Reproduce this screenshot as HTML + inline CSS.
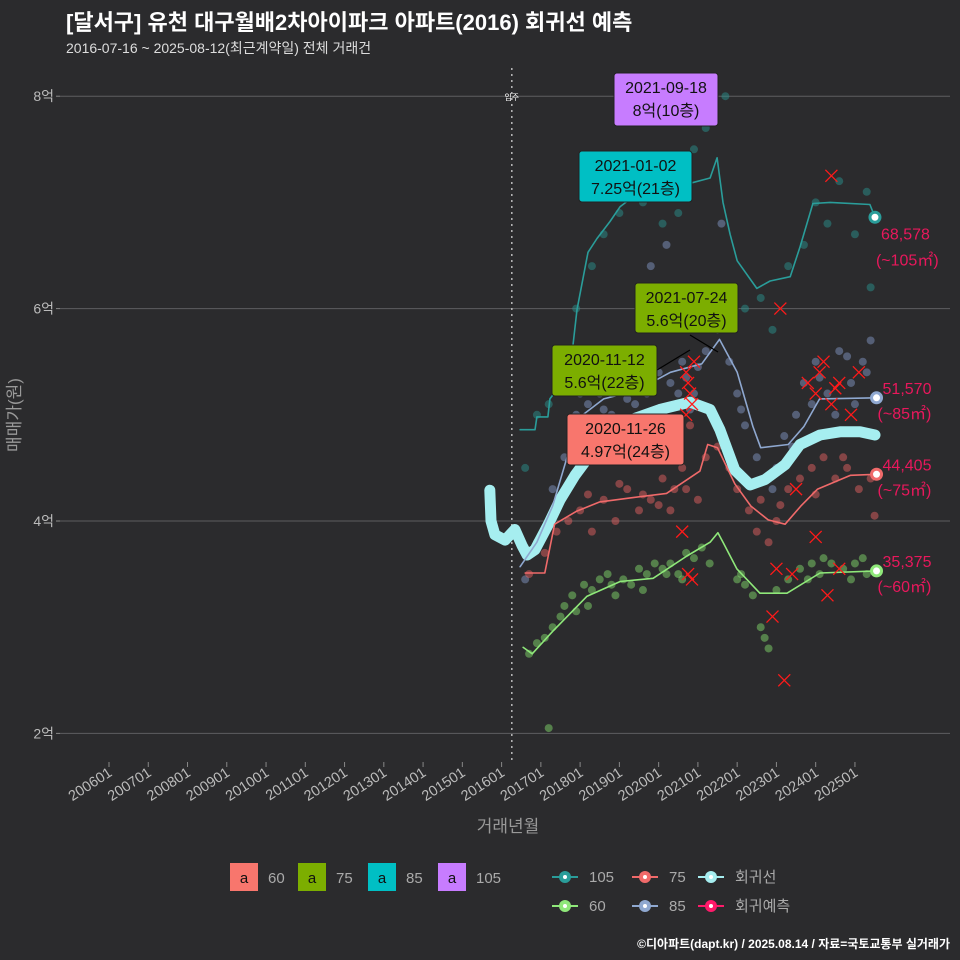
<!DOCTYPE html>
<html><head><meta charset="utf-8">
<style>
body{margin:0;background:#2b2b2d;}
svg{display:block;font-family:"Liberation Sans","Noto Sans CJK KR",sans-serif;}
</style></head><body>
<svg id="chart" width="960" height="960" viewBox="0 0 960 960" xmlns="http://www.w3.org/2000/svg">
<rect width="960" height="960" fill="#2b2b2d"/>
<text x="66" y="30" fill="#ffffff" font-size="22" font-weight="bold">[달서구] 유천 대구월배2차아이파크 아파트(2016) 회귀선 예측</text>
<text x="66" y="53" fill="#dddddd" font-size="14">2016-07-16 ~ 2025-08-12(최근계약일) 전체 거래건</text>
<g id="grid"></g>
<g id="series"></g>
<g id="annot"></g>
<text x="20" y="415" fill="#999" font-size="17" transform="rotate(-90 20 415)" text-anchor="middle">매매가(원)</text>
<text x="508" y="832" fill="#999" font-size="17" text-anchor="middle">거래년월</text>
<text x="950" y="948" fill="#ffffff" font-size="12" font-weight="bold" text-anchor="end">©디아파트(dapt.kr) / 2025.08.14 / 자료=국토교통부 실거래가</text>
<g id="legend"></g>
</svg>
<script>
const yTicks=[2,4,6,8];
const yTickLabels=["2억","4억","6억","8억"];
const xTickYears=[2006,2007,2008,2009,2010,2011,2012,2013,2014,2015,2016,2017,2018,2019,2020,2021,2022,2023,2024,2025];
const xTickLabels=["200601","200701","200801","200901","201001","201101","201201","201301","201401","201501","201601","201701","201801","201901","202001","202101","202201","202301","202401","202501"];
const moveInYear=2016.26;
const t105=[2016.47,2016.85,2016.9,2017.18,2017.23,2017.74,2017.92,2018.20,2018.43,2018.76,2019.02,2019.45,2020.11,2020.80,2021.31,2021.49,2021.64,2021.82,2022.00,2022.50,2022.84,2023.35,2023.60,2023.93,2024.37,2025.38,2025.51];
const v105=[4.86,4.86,4.98,4.98,5.15,5.40,5.99,6.53,6.66,6.82,6.96,7.08,7.13,7.18,7.23,7.42,7.0,6.70,6.45,6.19,6.26,6.30,6.58,6.99,7.0,6.98,6.86];
const t85=[2016.47,2016.9,2017.3,2017.74,2018.0,2018.6,2019.45,2020.3,2021.1,2021.55,2022.0,2022.4,2022.6,2023.3,2023.7,2024.1,2025.55];
const v85=[3.57,3.80,4.14,4.69,4.98,5.15,5.23,5.40,5.48,5.71,5.40,4.89,4.69,4.72,4.89,5.15,5.16];
const t75=[2016.6,2017.1,2017.35,2017.9,2018.5,2019.35,2020.2,2021.05,2021.25,2021.5,2021.94,2022.35,2022.79,2023.22,2023.62,2024.05,2024.89,2025.55];
const v75=[3.51,3.51,3.97,4.09,4.18,4.22,4.26,4.47,4.72,4.69,4.35,4.14,4.01,3.97,4.14,4.30,4.43,4.44];
const t60=[2016.55,2016.78,2017.3,2018.17,2019.02,2019.86,2020.72,2021.31,2021.51,2021.64,2021.99,2022.58,2023.27,2024.11,2025.55];
const v60=[2.81,2.75,2.96,3.29,3.43,3.46,3.67,3.80,3.89,3.80,3.55,3.32,3.32,3.51,3.53];
const tReg=[2015.70,2015.73,2015.83,2016.09,2016.34,2016.52,2016.65,2016.85,2017.18,2017.49,2017.87,2018.25,2018.76,2019.27,2020.03,2020.80,2021.31,2021.56,2021.94,2022.33,2022.71,2023.22,2023.60,2024.11,2024.62,2025.13,2025.51];
const vReg=[4.29,4.0,3.87,3.82,3.92,3.77,3.68,3.73,3.96,4.20,4.43,4.62,4.76,4.95,5.05,5.12,5.05,4.86,4.48,4.34,4.39,4.53,4.72,4.81,4.84,4.84,4.81];
const pts60=[[2016.7,2.75],[2016.9,2.85],[2017.1,2.9],[2017.3,3.0],[2017.5,3.1],[2017.6,3.2],[2017.8,3.3],[2017.9,3.15],[2018.1,3.4],[2018.3,3.35],[2018.5,3.45],[2018.7,3.5],[2018.9,3.3],[2019.1,3.45],[2019.3,3.4],[2019.5,3.55],[2019.7,3.5],[2019.9,3.6],[2020.1,3.55],[2020.3,3.6],[2020.5,3.5],[2020.7,3.7],[2020.9,3.65],[2021.1,3.75],[2021.3,3.6],[2022.0,3.45],[2022.2,3.4],[2022.4,3.3],[2022.6,3.0],[2022.7,2.9],[2022.8,2.8],[2023.0,3.35],[2023.3,3.45],[2023.6,3.55],[2023.9,3.6],[2024.1,3.5],[2024.4,3.6],[2024.7,3.55],[2025.0,3.6],[2025.3,3.5],[2017.2,2.05],[2018.2,3.2],[2018.8,3.4],[2019.6,3.35],[2020.2,3.5],[2020.6,3.45],[2022.1,3.5],[2023.8,3.45],[2024.2,3.65],[2024.9,3.45],[2025.2,3.65]];
const pts75=[[2016.7,3.5],[2017.1,3.7],[2017.4,3.9],[2017.7,4.0],[2018.0,4.1],[2018.3,3.9],[2018.6,4.2],[2018.9,4.0],[2019.2,4.3],[2019.5,4.1],[2019.8,4.2],[2020.1,4.4],[2020.4,4.3],[2020.6,4.5],[2020.8,4.9],[2021.0,4.2],[2021.2,4.6],[2021.5,4.7],[2021.8,4.5],[2022.0,4.3],[2022.3,4.1],[2022.5,3.9],[2022.8,3.8],[2023.0,4.0],[2023.3,4.3],[2023.6,4.4],[2023.9,4.5],[2024.2,4.6],[2024.5,4.4],[2024.8,4.5],[2025.1,4.3],[2025.4,4.4],[2025.5,4.05],[2018.2,4.25],[2019.0,4.35],[2019.6,4.25],[2020.0,4.15],[2020.3,4.1],[2020.7,4.3],[2022.2,4.4],[2022.6,4.2],[2023.1,4.15],[2024.0,4.25],[2024.7,4.6]];
const pts85=[[2016.6,3.45],[2016.9,3.8],[2017.3,4.3],[2017.6,4.6],[2017.9,5.0],[2018.2,5.1],[2018.5,5.2],[2018.8,5.0],[2019.1,5.3],[2019.4,5.1],[2019.7,5.2],[2020.0,5.4],[2020.3,5.3],[2020.6,5.5],[2020.9,5.2],[2021.2,5.6],[2021.5,5.8],[2021.8,5.5],[2022.0,5.2],[2022.2,4.9],[2022.5,4.6],[2022.7,4.4],[2023.0,4.5],[2023.2,4.8],[2023.5,5.0],[2023.7,5.3],[2024.0,5.5],[2024.3,5.2],[2024.6,5.6],[2024.9,5.3],[2025.2,5.5],[2025.4,5.7],[2019.8,6.4],[2020.2,6.6],[2021.6,6.8],[2018.0,5.2],[2018.6,5.05],[2019.2,5.15],[2020.5,5.2],[2020.7,5.35],[2020.8,5.05],[2021.0,5.45],[2022.1,5.05],[2022.9,4.3],[2023.4,4.7],[2023.9,5.1],[2024.1,5.35],[2024.5,5.0],[2024.8,5.55],[2025.0,5.1],[2025.3,5.4]];
const pts105=[[2016.6,4.5],[2016.9,5.0],[2017.2,5.1],[2017.5,5.4],[2017.9,6.0],[2018.3,6.4],[2018.6,6.7],[2019.0,6.9],[2019.6,7.0],[2020.1,6.8],[2020.5,6.9],[2020.9,7.5],[2021.2,7.7],[2021.7,8.0],[2022.2,6.0],[2022.6,6.1],[2022.9,5.8],[2023.3,6.4],[2023.7,6.6],[2024.0,7.0],[2024.3,6.8],[2024.6,7.2],[2025.0,6.7],[2025.3,7.1],[2025.4,6.2]];
const ptsPred=[[2020.7,5.4],[2020.8,5.2],[2020.9,5.5],[2020.75,5.3],[2020.85,5.1],[2020.7,5.0],[2020.75,3.5],[2020.85,3.45],[2020.6,3.9],[2023.0,3.55],[2023.4,3.5],[2023.8,5.3],[2024.0,5.2],[2024.2,5.5],[2024.4,5.1],[2024.6,5.3],[2024.9,5.0],[2025.1,5.4],[2024.1,5.4],[2024.5,5.25],[2024.4,7.25],[2023.1,6.0],[2023.2,2.5],[2024.3,3.3],[2024.6,3.55],[2022.9,3.1],[2023.5,4.3],[2024.0,3.85]];
const endLabels=["68,578","51,570","44,405","35,375"];
const endAreas=["(~105㎡)","(~85㎡)","(~75㎡)","(~60㎡)"];

const NS="http://www.w3.org/2000/svg";
const X=t=>109+(t-2006)*39.26;
const Y=v=>521-(v-4)*106.2;
function mk(tag,attrs,parent){const e=document.createElementNS(NS,tag);for(const k in attrs)e.setAttribute(k,attrs[k]);parent.appendChild(e);return e;}
const grid=document.getElementById('grid'),ser=document.getElementById('series'),ann=document.getElementById('annot'),leg=document.getElementById('legend');

yTicks.forEach((v,i)=>{
  const l=mk('line',{x1:60,x2:950,y1:Y(v),y2:Y(v),stroke:'#5e5e60','stroke-width':1},grid);
  
  
  const tk=mk('line',{x1:56,x2:60,y1:Y(v),y2:Y(v),stroke:'#888'},grid);
  
  
  const t=mk('text',{x:54,y:Y(v)+5,fill:'#bbb','font-size':14,'text-anchor':'end'},grid);
  t.textContent=yTickLabels[i];
  
  
});
xTickYears.forEach((yr,i)=>{
  const x=X(yr);
  const tk=mk('line',{x1:x,x2:x,y1:762,y2:767,stroke:'#888'},grid);
  
  
  const t=mk('text',{x:x+4,y:775,fill:'#bbb','font-size':14.5,'text-anchor':'end',transform:`rotate(-33 ${x+4} 775)`},grid);
  t.textContent=xTickLabels[i];
  
  
});
const mv=mk('line',{x1:X(moveInYear),x2:X(moveInYear),y1:68,y2:762,stroke:'#bbb','stroke-dasharray':'2,4','stroke-width':1.5},grid);


const mvt=mk('text',{x:X(moveInYear),y:100,fill:'#fff','font-size':8,'text-anchor':'middle'},grid);
mvt.textContent='입주';



function scatter(pts,color,name){pts.forEach(p=>{const c=mk('circle',{cx:X(p[0]),cy:Y(p[1]),r:4,fill:color,'fill-opacity':0.5},ser);});}
scatter(pts105,'#2a8f8c','point-105');
scatter(pts85,'#7f93bf','point-85');
scatter(pts75,'#e06060','point-75');
scatter(pts60,'#7fd66a','point-60');
function line(ts,vs,color,w,name){const d=ts.map((t,i)=>(i?'L':'M')+X(t).toFixed(1)+','+Y(vs[i]).toFixed(1)).join('');const p=mk('path',{d:d,fill:'none',stroke:color,'stroke-width':w,'stroke-linejoin':'round','stroke-linecap':'round'},ser);}
line(tReg,vReg,'#a6eef0',11,'regression-line');
line(t105,v105,'#2a9d9a',1.6,'line-105');
line(t85,v85,'#8fa8d0',1.6,'line-85');
line(t75,v75,'#f06a6a',1.6,'line-75');
line(t60,v60,'#8fe87a',1.6,'line-60');
ptsPred.forEach(p=>{const x=X(p[0]),y=Y(p[1]);const g=mk('path',{d:`M${x-6},${y-6}L${x+6},${y+6}M${x-6},${y+6}L${x+6},${y-6}`,stroke:'#ff1a1a','stroke-width':1.3},ser);});
const ends=[[t105,v105,'#2a9d9a'],[t85,v85,'#8fa8d0'],[t75,v75,'#f06a6a'],[t60,v60,'#8fe87a']];
ends.forEach((e,i)=>{const t=e[0][e[0].length-1],v=e[1][e[1].length-1];
  const c=mk('circle',{cx:X(t),cy:Y(v),r:5,fill:'#fff',stroke:e[2],'stroke-width':3},ser);
  
  
  const a=mk('text',{x:X(t)+6,y:Y(v)+(i==0?22:-4),fill:'#e8185c','font-size':16},ann);a.textContent=endLabels[i];
  
  
  const b=mk('text',{x:X(t)+1,y:Y(v)+(i==0?48:21),fill:'#e8185c','font-size':16},ann);b.textContent=endAreas[i];
  
  
});
[[657,370,690,350],[690,335,718,352]].forEach(s=>{const l=mk('line',{x1:s[0],y1:s[1],x2:s[2],y2:s[3],stroke:'#000','stroke-width':1.2},ann);});
const boxes=[[614,73,104,53,'#c77cff','2021-09-18','8억(10층)'],[579,151,113,51,'#00bfc4','2021-01-02','7.25억(21층)'],[635,283,103,50,'#7cae00','2021-07-24','5.6억(20층)'],[552,345,105,51,'#7cae00','2020-11-12','5.6억(22층)'],[567,414,117,51,'#f8766d','2020-11-26','4.97억(24층)']];
boxes.forEach(b=>{const g=mk('g',{},ann);
  mk('rect',{x:b[0],y:b[1],width:b[2],height:b[3],rx:3,fill:b[4],stroke:'#222'},g);
  const t1=mk('text',{x:b[0]+b[2]/2,y:b[1]+20,'font-size':16,'text-anchor':'middle',fill:'#111'},g);t1.textContent=b[5];
  const t2=mk('text',{x:b[0]+b[2]/2,y:b[1]+43,'font-size':16,'text-anchor':'middle',fill:'#111'},g);t2.textContent=b[6];});
const legA=[[230,'#f8766d','60'],[298,'#7cae00','75'],[368,'#00bfc4','85'],[438,'#c77cff','105']];
legA.forEach(l=>{const g=mk('g',{},leg);
  mk('rect',{x:l[0],y:863,width:28,height:28,fill:l[1]},g);
  const a=mk('text',{x:l[0]+14,y:883,'font-size':15,'text-anchor':'middle',fill:'#111'},g);a.textContent='a';
  const t=mk('text',{x:l[0]+38,y:883,'font-size':15,fill:'#aaa'},g);t.textContent=l[2];});
const legB=[[565,877,'#2a9d9a','105'],[645,877,'#f06a6a','75'],[711,877,'#a6eef0','회귀선'],[565,906,'#8fe87a','60'],[645,906,'#8fa8d0','85'],[711,906,'#ff1a6a','회귀예측']];
legB.forEach(l=>{const g=mk('g',{},leg);
  mk('line',{x1:l[0]-13,x2:l[0]+13,y1:l[1],y2:l[1],stroke:l[2],'stroke-width':2},g);
  mk('circle',{cx:l[0],cy:l[1],r:6,fill:l[2]},g);
  mk('circle',{cx:l[0],cy:l[1],r:2,fill:'#fff'},g);
  const t=mk('text',{x:l[0]+24,y:l[1]+5,'font-size':15,fill:'#aaa'},g);t.textContent=l[3];});
</script>
</body></html>
